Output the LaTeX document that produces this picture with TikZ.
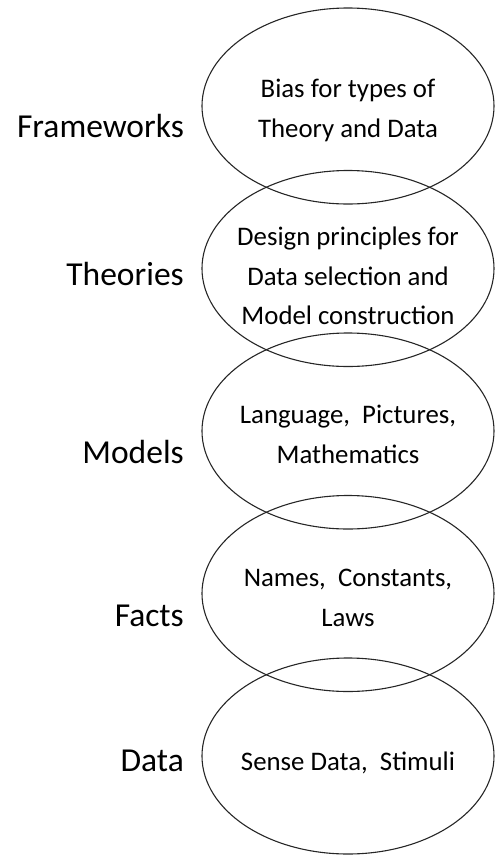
\documentclass[tikz,border=0pt]{standalone}
\usepackage{fontspec}
\setmainfont{Carlito}
\usetikzlibrary{shapes.geometric}
\begin{document}
\begin{tikzpicture}[x=1pt,y=-1pt,
  layer/.style={ellipse, draw=black!85, line width=1.1pt, minimum width=292pt, minimum height=196pt, inner sep=0pt},
  levellabel/.style={anchor=base east, inner sep=0pt, font=\fontsize{33.5}{40}\selectfont},
  content/.style={anchor=base, inner sep=0pt, font=\fontsize{26.8}{36}\selectfont}]
  \useasboundingbox (0,0) rectangle (495,855);
  % the five overlapping levels
  \node[layer] (e1) at (348,106) {};
  \node[layer] (e2) at (348,268.5) {};
  \node[layer] (e3) at (348,431) {};
  \node[layer] (e4) at (348,593.5) {};
  \node[layer] (e5) at (348,756) {};
  % contents of each level, one node per line (placed on baselines)
  \node[content] (t1a) at (348,97) {Bias for types of};
  \node[content] (t1b) at (348,137) {Theory and Data};
  \node[content] (t2a) at (348,245) {Design principles for};
  \node[content] (t2b) at (348,285) {Data selection and};
  \node[content] (t2c) at (348,324) {Model construction};
  \node[content] (t3a) at (348,423) {Language,\ \ Pictures,};
  \node[content] (t3b) at (348,463) {Mathematics};
  \node[content] (t4a) at (348,586) {Names,\ \ Constants,};
  \node[content] (t4b) at (348,626) {Laws};
  \node[content] (t5) at (348,770) {Sense Data,\ \ Stimuli};
  % level names on the left
  \node[levellabel] (l1) at (184,137) {Frameworks};
  \node[levellabel] (l2) at (184,285) {Theories};
  \node[levellabel] (l3) at (184,463) {Models};
  \node[levellabel] (l4) at (184,626) {Facts};
  \node[levellabel] (l5) at (184,771) {Data};
\end{tikzpicture}
\end{document}
